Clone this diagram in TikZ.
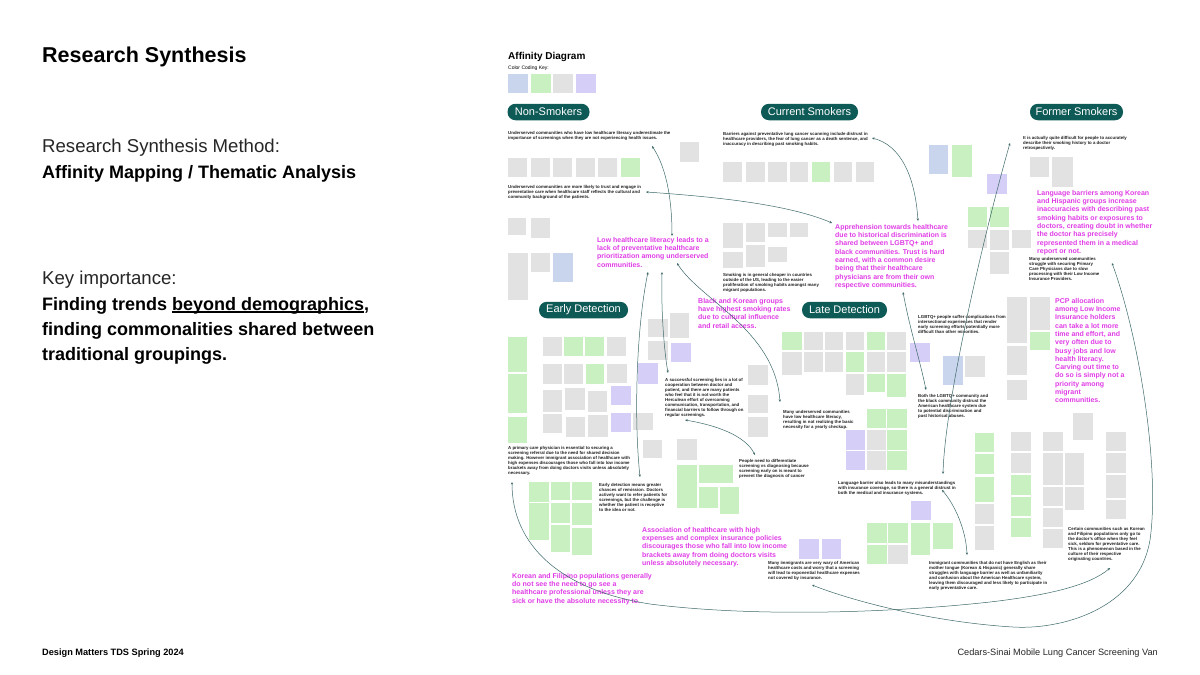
\documentclass[tikz,border=0pt]{standalone}
\usepackage{fontspec}
\setmainfont{Liberation Sans}
\usetikzlibrary{arrows.meta}
\definecolor{teal}{HTML}{0E5A56}
\definecolor{mag}{HTML}{E03CE6}
\definecolor{ng}{HTML}{E2E2E2}
\definecolor{ngr}{HTML}{C8F0C1}
\definecolor{nbl}{HTML}{C8D5EC}
\definecolor{npu}{HTML}{D5CEF7}
\definecolor{linkc}{HTML}{3E6868}
\newcommand{\myul}[1]{\setbox0\hbox{#1}\rlap{\raisebox{-2.6pt}{\rule{\wd0}{1.2pt}}}\box0}
\newcommand{\stk}[5]{\path[fill=#1] (#2,#3) rectangle (#4,#5);}
\tikzset{
  btext/.style={anchor=north west, inner sep=0pt, align=left, text=black!88, font=\fontsize{4.35}{5}\selectfont\bfseries},
  mtext/.style={anchor=north west, inner sep=0pt, align=left, text=mag, font=\fontsize{7}{8.3}\selectfont\bfseries},
  pill/.style={fill=teal, text=white, rounded corners=8pt, inner sep=0pt, minimum height=16.5pt, font=\fontsize{11}{12}\selectfont},
  link/.style={draw=linkc, line width=0.5pt, {Stealth[length=2.6pt,width=2.2pt]}-{Stealth[length=2.6pt,width=2.2pt]}},
}
\begin{document}
\begin{tikzpicture}[x=1pt,y=-1pt]
\useasboundingbox[fill=white] (0,0) rectangle (1200,675);

% ---------- left panel ----------
\node[anchor=base west, inner sep=0pt, font=\fontsize{21.5}{24}\selectfont\bfseries] (title) at (42,62.5) {Research Synthesis};
\node[anchor=base west, inner sep=0pt, font=\fontsize{18.6}{22}\selectfont, text=black!85] (meth) at (42,152) {Research Synthesis Method:};
\node[anchor=base west, inner sep=0pt, font=\fontsize{18}{22}\selectfont\bfseries] (methv) at (42,178) {Affinity Mapping / Thematic Analysis};
\node[anchor=base west, inner sep=0pt, font=\fontsize{18.6}{22}\selectfont, text=black!85] (key) at (42,284) {Key importance:};
\node[anchor=base west, inner sep=0pt, font=\fontsize{18}{22}\selectfont\bfseries] (k1) at (42,310) {Finding trends \myul{beyond demographics},};
\node[anchor=base west, inner sep=0pt, font=\fontsize{18}{22}\selectfont\bfseries] (k2) at (42,335) {finding commonalities shared between};
\node[anchor=base west, inner sep=0pt, font=\fontsize{18}{22}\selectfont\bfseries] (k3) at (42,360) {traditional groupings.};
\node[anchor=base west, inner sep=0pt, font=\fontsize{9.2}{11}\selectfont\bfseries] (foot1) at (42,655) {Design Matters TDS Spring 2024};
\node[anchor=base east, inner sep=0pt, font=\fontsize{9.2}{11}\selectfont, text=black!85] (foot2) at (1158,655) {Cedars-Sinai Mobile Lung Cancer Screening Van};

% ---------- affinity diagram header ----------
\node[anchor=base west, inner sep=0pt, font=\fontsize{10}{12}\selectfont\bfseries] (adt) at (508,59) {Affinity Diagram};
\node[anchor=base west, inner sep=0pt, font=\fontsize{5}{6}\selectfont] (ckey) at (508,69.5) {Color Coding Key:};
\stk{nbl}{508}{74}{528}{93}
\stk{ngr}{531}{74}{551}{93}
\stk{ng}{553}{74}{573}{93}
\stk{npu}{576}{74}{596}{93}

% ---------- pills ----------
\node[pill, minimum width=82pt] (pns) at (548.5,112) {Non-Smokers};
\node[pill, minimum width=97pt] (pcs) at (809.5,112) {Current Smokers};
\node[pill, minimum width=93pt] (pfs) at (1076.5,112) {Former Smokers};
\node[pill, minimum width=89pt] (ped) at (583.5,310) {Early Detection};
\node[pill, minimum width=85pt] (pld) at (844.5,310) {Late Detection};

% ---------- sticky notes ----------
% non-smokers
\stk{ng}{508}{158}{527}{177}\stk{ng}{531}{158}{550}{177}\stk{ng}{553}{158}{572}{177}
\stk{ng}{576}{158}{595}{177}\stk{ng}{598}{158}{617}{177}\stk{ngr}{621}{158}{640}{177}
\stk{ng}{680}{142}{699}{162}
\stk{ng}{508}{218}{526}{235}\stk{ng}{531}{218}{550}{238}
\stk{ng}{508}{253}{528}{300}\stk{ng}{531}{253}{550}{272}\stk{nbl}{553}{253}{573}{282}
% current smokers
\stk{ng}{723}{162}{742}{182}\stk{ng}{746}{162}{765}{182}\stk{ng}{768}{162}{787}{182}
\stk{ng}{790}{162}{808}{182}\stk{ngr}{812}{162}{830}{182}\stk{ng}{834}{162}{852}{182}
\stk{ng}{856}{162}{874}{182}
\stk{ng}{723}{223}{743}{248}\stk{ng}{746}{223}{765}{242}\stk{ng}{768}{223}{787}{237}
\stk{ng}{790}{223}{808}{237}
\stk{ng}{723}{252}{743}{268}\stk{ng}{746}{245}{765}{267}\stk{ng}{768}{247}{787}{262}
% middle cluster
\stk{nbl}{929}{145}{948}{174}\stk{ngr}{952}{145}{972}{177}\stk{npu}{987}{174}{1007}{194}
\stk{ngr}{968}{207}{987}{227}\stk{ngr}{990}{207}{1009}{227}
\stk{ng}{968}{230}{987}{248}\stk{ng}{990}{230}{1009}{250}\stk{ng}{1012}{230}{1031}{248}
\stk{ng}{990}{252}{1009}{274}
% former smokers
\stk{ng}{1030}{157}{1049}{177}\stk{ng}{1052}{157}{1073}{187}
\stk{ng}{1007}{297}{1027}{343}\stk{ng}{1030}{297}{1050}{330}\stk{ngr}{1030}{332}{1050}{350}
\stk{ng}{1007}{346}{1027}{375}\stk{ng}{1007}{380}{1027}{400}
\stk{ng}{1073}{413}{1093}{440}
% right bottom cluster
\stk{ngr}{975}{433}{994}{452}\stk{ngr}{975}{454}{994}{474}\stk{ngr}{975}{477}{994}{502}
\stk{ng}{975}{504}{994}{524}\stk{ng}{975}{526}{994}{550}
\stk{ng}{1011}{432}{1031}{451}\stk{ng}{1011}{453}{1031}{473}\stk{ngr}{1011}{475}{1031}{495}
\stk{ngr}{1011}{497}{1031}{516}\stk{ngr}{1011}{518}{1031}{537}
\stk{ng}{1043}{432}{1063}{451}\stk{ng}{1043}{453}{1063}{485}\stk{ng}{1065}{453}{1084}{485}
\stk{ng}{1043}{487}{1063}{506}\stk{ng}{1065}{487}{1084}{510}\stk{ng}{1043}{508}{1063}{527}
\stk{ng}{1043}{529}{1063}{548}
\stk{ng}{1106}{432}{1126}{451}\stk{ng}{1106}{453}{1126}{473}\stk{ng}{1106}{475}{1126}{498}
\stk{ng}{1106}{500}{1126}{519}
% early detection
\stk{ngr}{508}{337}{527}{372}\stk{ngr}{508}{374}{527}{413}\stk{ngr}{508}{417}{527}{443}
\stk{ng}{543}{337}{562}{356}\stk{ngr}{564}{337}{583}{356}\stk{ngr}{585}{337}{604}{356}\stk{ng}{607}{337}{626}{356}
\stk{ng}{543}{364}{562}{384}\stk{ng}{564}{364}{583}{384}\stk{ngr}{586}{364}{604}{384}\stk{ng}{607}{364}{627}{383}
\stk{ng}{543}{390}{562}{412}\stk{ng}{565}{388}{585}{410}\stk{ng}{588}{391}{607}{412}\stk{npu}{611}{386}{631}{405}
\stk{ng}{543}{414}{562}{433}\stk{ng}{566}{417}{585}{437}\stk{ng}{588}{415}{608}{437}\stk{npu}{611}{413}{631}{432}
\stk{ng}{633}{413}{653}{430}
\stk{npu}{638}{363}{658}{384}
\stk{ng}{648}{319}{668}{337}\stk{ng}{648}{341}{668}{360}\stk{ng}{670}{313}{689}{338}\stk{npu}{671}{343}{691}{362}
\stk{ng}{643}{440}{662}{458}\stk{ng}{677}{439}{697}{460}
\stk{ng}{748}{365}{768}{385}\stk{ng}{748}{395}{768}{413}\stk{ng}{748}{417}{768}{437}
\stk{ngr}{529}{482}{549}{502}\stk{ngr}{551}{482}{570}{500}\stk{ngr}{572}{482}{592}{500}
\stk{ngr}{529}{503}{549}{540}\stk{ngr}{551}{503}{570}{523}\stk{ngr}{572}{503}{592}{525}
\stk{ngr}{551}{525}{570}{552}\stk{ngr}{572}{528}{592}{555}
\stk{ngr}{677}{465}{697}{508}\stk{ngr}{699}{465}{733}{483}\stk{ngr}{699}{487}{718}{508}\stk{ngr}{720}{487}{739}{514}
\stk{npu}{799}{539}{819}{559}\stk{npu}{822}{539}{841}{559}
% late detection
\stk{ngr}{782}{332}{802}{350}\stk{ng}{804}{332}{823}{350}\stk{ng}{825}{332}{843}{350}
\stk{ng}{846}{332}{864}{350}\stk{ngr}{867}{332}{885}{350}\stk{ng}{887}{332}{906}{350}
\stk{ng}{782}{352}{802}{375}\stk{ng}{804}{352}{823}{372}\stk{ng}{825}{352}{843}{372}
\stk{ngr}{846}{352}{864}{372}\stk{ng}{867}{352}{885}{372}\stk{ng}{887}{352}{906}{372}
\stk{ng}{846}{374}{864}{395}\stk{ngr}{867}{374}{885}{392}\stk{ngr}{887}{374}{906}{397}
\stk{npu}{910}{343}{930}{362}
\stk{nbl}{943}{356}{963}{385}\stk{ng}{965}{356}{985}{377}
\stk{ngr}{867}{409}{886}{428}\stk{ngr}{887}{409}{907}{428}
\stk{npu}{846}{430}{865}{450}\stk{ng}{867}{430}{886}{450}\stk{ngr}{887}{430}{907}{450}
\stk{npu}{846}{451}{865}{470}\stk{ng}{867}{451}{886}{470}\stk{ngr}{887}{451}{907}{470}
\stk{npu}{911}{501}{931}{520}
\stk{ngr}{867}{523}{887}{543}\stk{ngr}{888}{523}{908}{543}\stk{ngr}{911}{523}{930}{555}\stk{ngr}{933}{523}{953}{549}
\stk{ngr}{867}{545}{887}{564}\stk{ng}{888}{545}{908}{564}

% ---------- black insight texts ----------
\node[btext] (t1) at (508,131) {Underserved communities who have low healthcare literacy underestimate the\\importance of screenings when they are not experiencing health issues.};
\node[btext] (t2) at (508,185) {Underserved communities are more likely to trust and engage in\\preventative care when healthcare staff reflects the cultural and\\community background of the patients.};
\node[btext] (t3) at (723,132) {Barriers against preventative lung cancer scanning include distrust in\\healthcare providers, the fear of lung cancer as a death sentence, and\\inaccuracy in describing past smoking habits.};
\node[btext] (t4) at (723,273) {Smoking is in general cheaper in countries\\outside of the US, leading to the easier\\proliferation of smoking habits amongst many\\migrant populations.};
\node[btext] (t5) at (1023,136) {It is actually quite difficult for people to accurately\\describe their smoking history to a doctor\\retrospectively.};
\node[btext] (t6) at (1029,257) {Many underserved communities\\struggle with securing Primary\\Care Physicians due to slow\\processing with their Low Income\\Insurance Providers.};
\node[btext] (t7) at (665,378) {A successful screening lies in a lot of\\cooperation between doctor and\\patient, and there are many patients\\who feel that it is not worth the\\Herculean effort of overcoming\\communication, transportation, and\\financial barriers to follow through on\\regular screenings.};
\node[btext] (t8) at (508,446) {A primary care physician is essential to securing a\\screening referral due to the need for shared decision\\making. However immigrant association of healthcare with\\high expenses discourages those who fall into low income\\brackets away from doing doctors visits unless absolutely\\necessary.};
\node[btext] (t9) at (599,483) {Early detection means greater\\chances of remission. Doctors\\actively want to refer patients for\\screenings, but the challenge is\\whether the patient is receptive\\to the idea or not.};
\node[btext] (t10) at (739,459) {People need to differentiate\\screening vs diagnosing because\\screening early on is meant to\\prevent the diagnosis of cancer};
\node[btext] (t11) at (783,410) {Many underserved communities\\have low healthcare literacy,\\resulting in not realizing the basic\\necessity for a yearly checkup.};
\node[btext] (t12) at (918,315) {LGBTQ+ people suffer complications from\\intersectional experiences that render\\early screening efforts potentially more\\difficult than other minorities.};
\node[btext] (t13) at (918,394) {Both the LGBTQ+ community and\\the black community distrust the\\American healthcare system due\\to potential discrimination and\\past historical abuses.};
\node[btext] (t14) at (838,481) {Language barrier also leads to many misunderstandings\\with insurance coverage, so there is a general distrust in\\both the medical and insurance systems.};
\node[btext] (t15) at (768,561.5) {Many immigrants are very wary of American\\healthcare costs and worry that a screening\\will lead to exponential healthcare expenses\\not covered by insurance.};
\node[btext] (t16) at (929,561.5) {Immigrant communities that do not have English as their\\mother tongue (Korean \& Hispanic) generally share\\struggles with language barrier as well as unfamiliarity\\and confusion about the American Healthcare system,\\leaving them discouraged and less likely to participate in\\early preventative care.};
\node[btext] (t17) at (1068,527.5) {Certain communities such as Korean\\and Filipino populations only go to\\the doctor's office when they feel\\sick, seldom for preventative care.\\This is a phenomenon based in the\\culture of their respective\\originating countries.};

% ---------- magenta themes ----------
\node[mtext] (m1) at (597,237) {Low healthcare literacy leads to a\\lack of  preventative healthcare\\prioritization among underserved\\communities.};
\node[mtext] (m2) at (835,224) {Apprehension towards healthcare\\due to historical discrimination is\\shared between LGBTQ+ and\\black communities. Trust is hard\\earned, with a common desire\\being that their healthcare\\physicians are from their own\\respective communities.};
\node[mtext] (m3) at (1037,190) {Language barriers among Korean\\and Hispanic groups increase\\inaccuracies with describing past\\smoking habits or exposures to\\doctors, creating doubt in whether\\the doctor has precisely\\represented them in a medical\\report or not.};
\node[mtext] (m4) at (698,298) {Black and Korean groups\\have highest smoking rates\\due to cultural influence\\and retail access.};
\node[mtext] (m5) at (1055,298) {PCP allocation\\among Low Income\\Insurance holders\\can take a lot more\\time and effort, and\\very often due to\\busy jobs and low\\health literacy.\\Carving out time to\\do so is simply not a\\priority among\\migrant\\communities.};
\node[mtext] (m6) at (642,527) {Association of healthcare with high\\expenses and complex insurance policies\\discourages those who fall into low income\\brackets away from doing doctors visits\\unless absolutely necessary.};
\node[mtext] (m7) at (512,573) {Korean and Filipino populations generally\\do not see the need to go see a\\healthcare professional unless they are\\sick or have the absolute necessity to.};

% ---------- connector end points ----------
\coordinate (c1a) at (652,146); \coordinate (c1b) at (672,236);
\coordinate (c2a) at (646,192); \coordinate (c2b) at (832,223);
\coordinate (c3a) at (872,138); \coordinate (c3b) at (918,221);
\coordinate (c4a) at (677,263); \coordinate (c4b) at (780,402);
\coordinate (c5a) at (648,272); \coordinate (c5b) at (640,477);
\coordinate (c6a) at (662,272); \coordinate (c6b) at (668,373);
\coordinate (c7a) at (685,420); \coordinate (c7b) at (755,455);
\coordinate (c8a) at (903,292); \coordinate (c8b) at (926,390);
\coordinate (c9a) at (1010,143); \coordinate (c9b) at (943,474);
\coordinate (c10a) at (1112,263); \coordinate (c10b) at (812,585);
\coordinate (c11a) at (942,490); \coordinate (c11b) at (967,555);
\coordinate (c12a) at (512,482); \coordinate (c12b) at (1110,568);

% ---------- connectors ----------
\draw[link] (c1a) .. controls (668,170) and (672,205) .. (c1b);
\draw[link] (c2a) .. controls (720,197) and (790,205) .. (c2b);
\draw[link] (c3b) .. controls (915,175) and (900,145) .. (c3a);
\draw[link] (c4a) .. controls (700,300) and (775,330) .. (c4b);
\draw[link] (c5a) .. controls (636,330) and (634,420) .. (c5b);
\draw[link] (c6a) .. controls (661,310) and (664,350) .. (c6b);
\draw[link] (c7a) .. controls (715,425) and (745,435) .. (c7b);
\draw[link] (c8a) .. controls (910,330) and (920,360) .. (c8b);
\draw[link] (c9a) .. controls (985,230) and (945,400) .. (c9b);
\draw[link] (c10a) .. controls (1140,340) and (1160,470) .. (1150,540) .. controls (1138,610) and (1060,630) .. (1013,627) .. controls (930,622) and (850,600) .. (c10b);
\draw[link] (c11a) .. controls (955,505) and (966,530) .. (c11b);
\draw[link] (c12a) .. controls (512,545) and (560,590) .. (650,604) .. controls (760,618) and (900,612) .. (990,602) .. controls (1050,595) and (1090,585) .. (c12b);
\end{tikzpicture}
\end{document}
